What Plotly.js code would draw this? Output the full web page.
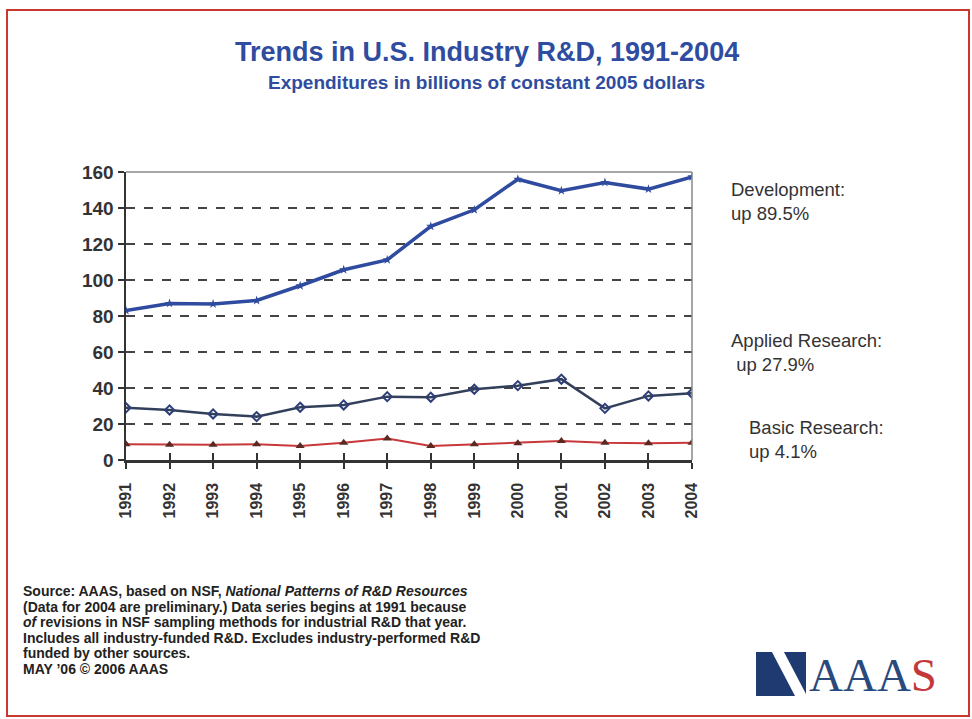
<!DOCTYPE html>
<html>
<head>
<meta charset="utf-8">
<script src="https://cdn.plot.ly/plotly-3.0.1.min.js"></script>
<style>html,body{margin:0;padding:0;background:#fff;}#chart{width:972px;height:719px;}</style>
</head>
<body>
<div id="chart"></div>
<script>
const years = [1991,1992,1993,1994,1995,1996,1997,1998,1999,2000,2001,2002,2003,2004];
const development = [83.0,87.0,86.7,88.6,96.8,105.7,111.2,129.8,139.0,156.0,149.6,154.2,150.5,157.3];
const applied = [29.0,27.8,25.6,24.1,29.3,30.6,35.2,34.9,39.3,41.3,44.9,28.7,35.6,37.1];
const basic = [8.8,8.5,8.5,8.7,7.8,9.6,12.0,7.8,8.7,9.3,10.6,9.6,9.3,9.6];
const yTicks = [0,20,40,60,80,100,120,140,160];
const footnoteLines = [
  'Source: AAAS, based on NSF, <i>National Patterns of R&amp;D Resources</i>',
  '(Data for 2004 are preliminary.) Data series begins at 1991 because',
  '<i>of</i> revisions in NSF sampling methods for industrial R&amp;D that year.',
  'Includes all industry-funded R&amp;D. Excludes industry-performed R&amp;D',
  'funded by other sources.',
  'MAY \u201906 \u00a9 2006 AAAS'
];

const FONT = "Liberation Sans, Arial, sans-serif";
const TXT = "#333333";
const BLUE = "#2E4CA0";

const traces = [
  {x: years, y: development, type: 'scatter', mode: 'lines+markers', name: 'Development',
   line: {color: '#2F4BA0', width: 3.5},
   marker: {symbol: 'star', size: 7, color: '#2F4BA0'}},
  {x: years, y: applied, type: 'scatter', mode: 'lines+markers', name: 'Applied Research',
   line: {color: '#33405C', width: 2.5},
   marker: {symbol: 'diamond-open', size: 7, color: '#2E3F78', line: {width: 2}}},
  {x: years, y: basic, type: 'scatter', mode: 'lines+markers', name: 'Basic Research',
   line: {color: '#C8373A', width: 2},
   marker: {symbol: 'triangle-up', size: 8, color: '#5A2A22'}},
  {x: years, y: years.map(() => null), xaxis: 'x2', type: 'scatter', mode: 'lines', showlegend: false, hoverinfo: 'skip'}
];

const footAnns = footnoteLines.map((t, i) => ({
  xref: 'paper', yref: 'paper', x: -0.1855, y: (460 - (591 + 15.6 * i)) / 288,
  xanchor: 'left', yanchor: 'middle', align: 'left', showarrow: false,
  text: t, font: {family: FONT, size: 14, color: '#222', weight: 'bold'}
}));

const layout = {
  width: 972, height: 719,
  margin: {l: 126, r: 280, t: 172, b: 259},
  paper_bgcolor: '#ffffff', plot_bgcolor: '#ffffff',
  showlegend: false,
  font: {family: FONT, color: TXT},
  xaxis: {
    range: [1991, 2004], tickvals: years, ticktext: years.map(String),
    tickangle: -90, ticks: 'outside', ticklen: 6, tickwidth: 2, tickcolor: '#333',
    ticklabelstandoff: 8,
    showline: true, linecolor: '#333', linewidth: 2.5, showgrid: false, zeroline: false,
    tickfont: {family: FONT, size: 16, color: TXT, weight: 'bold'}
  },
  xaxis2: {
    overlaying: 'x', anchor: 'y', side: 'bottom', matches: 'x',
    range: [1991, 2004], tickvals: years, showticklabels: false,
    ticks: 'inside', ticklen: 7, tickwidth: 2, tickcolor: '#333',
    showline: false, showgrid: false, zeroline: false
  },
  yaxis: {
    range: [0, 160], tickvals: yTicks, ticks: 'outside', ticklen: 6, tickwidth: 2, tickcolor: '#333',
    showline: true, linecolor: '#333', linewidth: 2.5,
    showgrid: true, gridcolor: '#444', griddash: 'dash', gridwidth: 1.3, zeroline: false,
    tickfont: {family: FONT, size: 19, color: TXT, weight: 'bold'}
  },
  shapes: [
    {type: 'line', xref: 'paper', yref: 'paper', x0: 0, x1: 1, y0: 1, y1: 1, line: {color: '#888', width: 1.5}},
    {type: 'line', xref: 'paper', yref: 'paper', x0: 1, x1: 1, y0: 0, y1: 1, line: {color: '#888', width: 1.5}},
    {type: 'rect', xref: 'paper', yref: 'paper', x0: -0.2102, x1: 1.4894, y0: -0.8889, y1: 1.5625,
     line: {color: '#C8382E', width: 2}},
    {type: 'rect', xref: 'paper', yref: 'paper', x0: 1.1131, x1: 1.2014, y0: -0.8194, y1: -0.6667,
     line: {width: 0}, fillcolor: '#1E3A70'},
    {type: 'path', xref: 'paper', yref: 'paper',
     path: 'M 1.1413 -0.6667 L 1.1625 -0.6667 L 1.2014 -0.8125 L 1.2014 -0.8194 L 1.1820 -0.8194 Z',
     line: {width: 0}, fillcolor: '#ffffff'}
  ],
  annotations: [
    {xref: 'paper', yref: 'paper', x: 0.6378, y: 1.4167, xanchor: 'center', yanchor: 'middle', showarrow: false,
     text: '<b>Trends in U.S. Industry R&amp;D, 1991-2004</b>', font: {family: FONT, size: 27, color: BLUE}},
    {xref: 'paper', yref: 'paper', x: 0.6378, y: 1.3125, xanchor: 'center', yanchor: 'middle', showarrow: false,
     text: '<b>Expenditures in billions of constant 2005 dollars</b>', font: {family: FONT, size: 19, color: BLUE}},
    {xref: 'paper', yref: 'paper', x: 1.0654, y: 0.8976, xanchor: 'left', yanchor: 'middle', align: 'left', showarrow: false,
     text: 'Development:<br>up 89.5%', font: {family: FONT, size: 18.5, color: TXT}},
    {xref: 'paper', yref: 'paper', x: 1.0654, y: 0.3733, xanchor: 'left', yanchor: 'middle', align: 'left', showarrow: false,
     text: 'Applied Research:<br> up 27.9%', font: {family: FONT, size: 18.5, color: TXT}},
    {xref: 'paper', yref: 'paper', x: 1.0972, y: 0.0712, xanchor: 'left', yanchor: 'middle', align: 'left', showarrow: false,
     text: 'Basic Research:<br>up 4.1%', font: {family: FONT, size: 18.5, color: TXT}},
    ...footAnns,
    {xref: 'paper', yref: 'paper', x: 1.203, y: -0.7465, xanchor: 'left', yanchor: 'middle', showarrow: false,
     text: '<span style="color:#2A4A7E">AAA</span><span style="color:#C4383A">S</span>',
     font: {family: 'Liberation Serif, Times New Roman, serif', size: 47}}
  ]
};

Plotly.newPlot('chart', traces, layout, {displayModeBar: false, staticPlot: true});
</script>
</body>
</html>
